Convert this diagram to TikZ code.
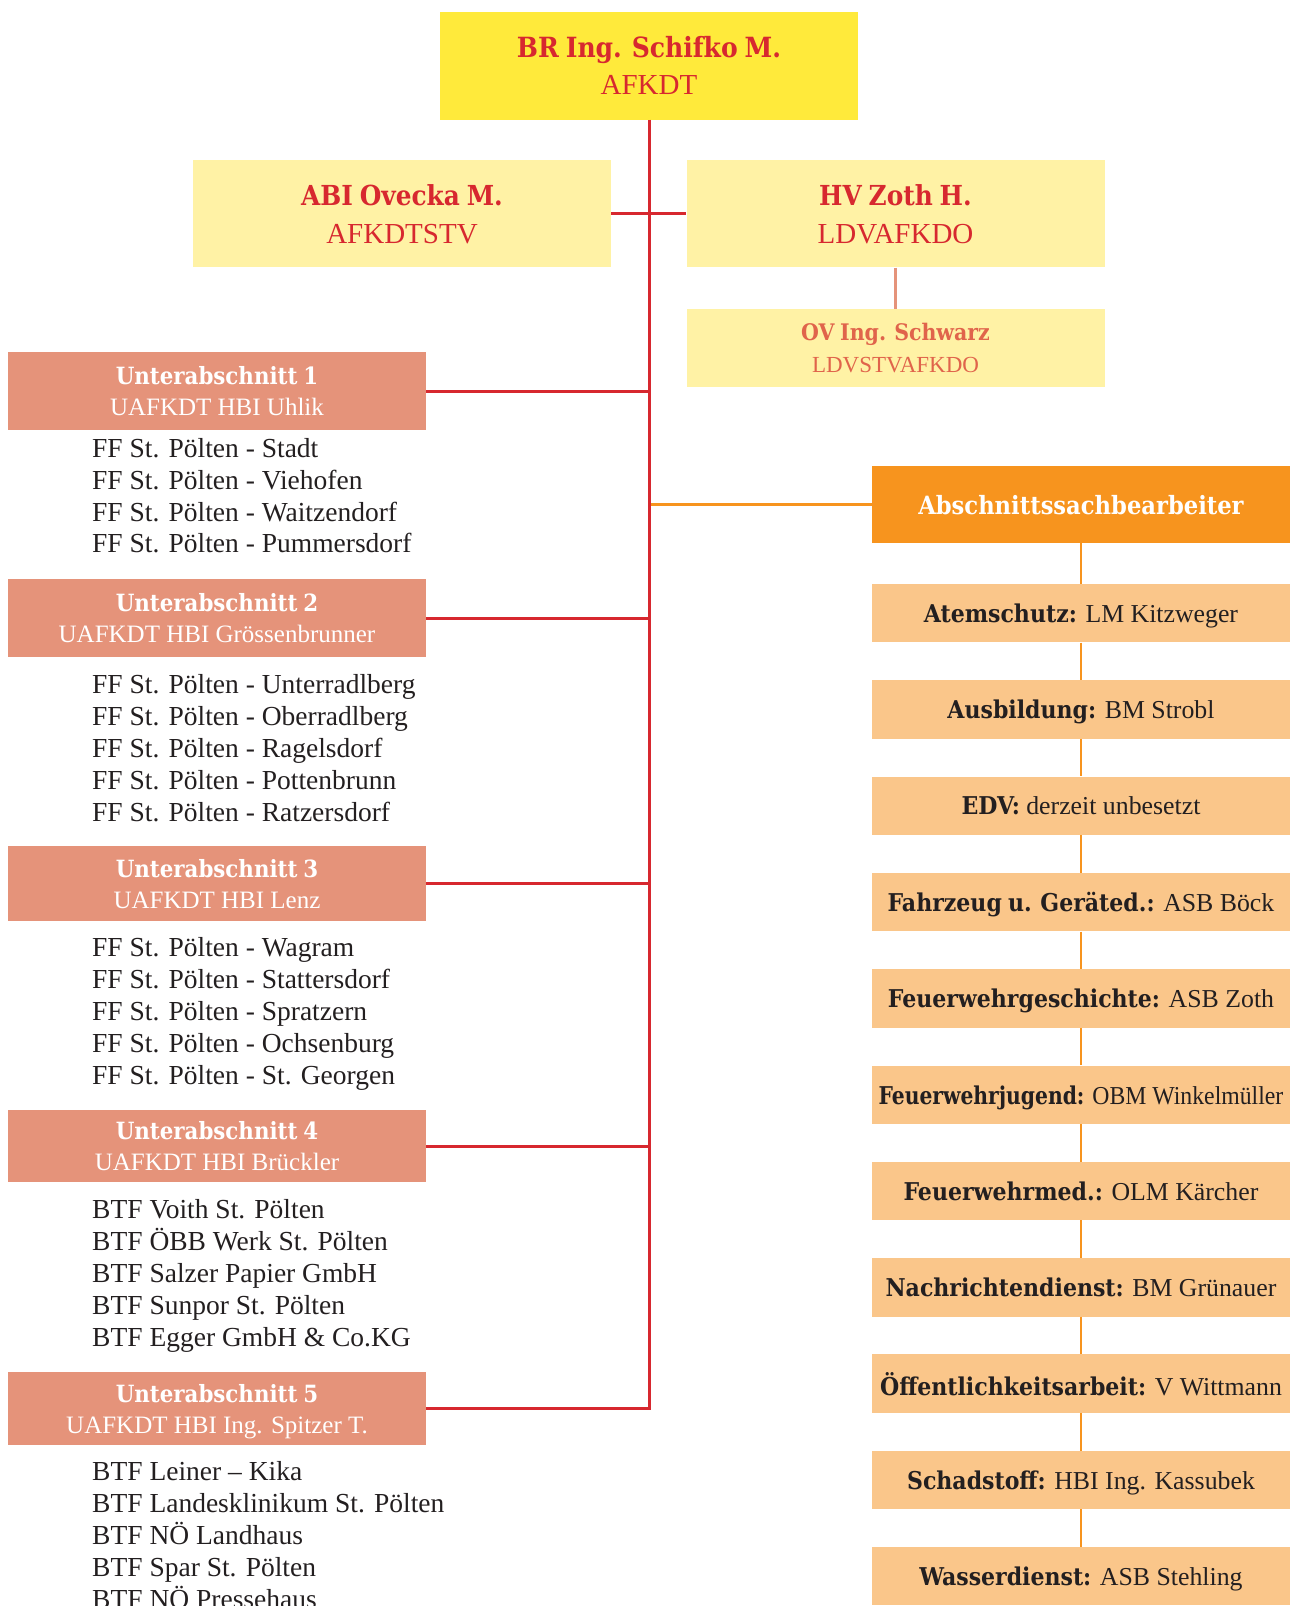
\documentclass[tikz,border=0pt]{standalone}
\usepackage{graphicx}
\usepackage{fontspec}
\setmainfont{Liberation Serif}
\newfontfamily\headfont{DejaVu Serif Condensed}[Scale=0.95,WordSpace=0.8]
\newcommand{\hd}[1]{{\headfont\bfseries #1}}

\definecolor{afred}{HTML}{D7282F}
\definecolor{afyellow}{HTML}{FFEA3B}
\definecolor{afpale}{HTML}{FFF2A5}
\definecolor{afsalmon}{HTML}{E5937A}
\definecolor{afovtext}{HTML}{E0644B}
\definecolor{aforange}{HTML}{F7941E}
\definecolor{aflight}{HTML}{FAC68A}
\definecolor{aftext}{HTML}{231F20}

\begin{document}
\begin{tikzpicture}[x=1pt,y=-1pt,
    every node/.style={inner sep=0pt,align=center},
    chief/.style={fill=afyellow,minimum width=418pt,minimum height=108pt,text depth=0pt,text=afred,font=\fontsize{29}{37.7}\selectfont},
    deputy/.style={fill=afpale,minimum width=418pt,minimum height=107.5pt,text depth=0pt,text=afred,font=\fontsize{29}{37.7}\selectfont},
    ovbox/.style={fill=afpale,minimum width=418pt,minimum height=78pt,text depth=0pt,text=afovtext,font=\fontsize{23}{32.5}\selectfont},
    uabox/.style={fill=afsalmon,minimum width=418pt,text depth=0pt,text=white,font=\fontsize{25}{31}\selectfont},
    member/.style={anchor=base west,text=aftext,font=\fontsize{27.5}{30}\selectfont},
    asbbox/.style={fill=aforange,minimum width=418pt,minimum height=77pt,text depth=0pt,text=white,font=\fontsize{26.5}{30}\selectfont},
    subbox/.style={fill=aflight,minimum width=418pt,minimum height=58.4pt,text depth=0pt,text=aftext,font=\fontsize{25.8}{30}\selectfont},
    trunk/.style={draw=afred,line width=3pt},
    ovline/.style={draw=afsalmon,line width=3pt},
    asbline/.style={draw=aforange,line width=2.5pt}]
  \useasboundingbox (0,0) rectangle (1290,1606);

  \node[chief] (afkdt) at (649,65.5) {\hd{\fontsize{29.3}{37.7}\selectfont BR Ing. Schifko M.}\\AFKDT};
  \node[deputy] (stv) at (402,213.7) {\hd{ABI Ovecka M.}\\AFKDTSTV};
  \node[deputy] (ldv) at (895.5,213.7) {\hd{HV Zoth H.}\\LDVAFKDO};
  \node[ovbox] (ldvstv) at (895.5,347.8) {\hd{\fontsize{24}{32.5}\selectfont OV Ing. Schwarz}\\LDVSTVAFKDO};

  \node[uabox,minimum height=77.5pt] (ua1) at (217,391) {\hd{Unterabschnitt 1}\\UAFKDT HBI Uhlik};
  \node[uabox,minimum height=78pt] (ua2) at (217,618) {\hd{Unterabschnitt 2}\\UAFKDT HBI Grössenbrunner};
  \node[uabox,minimum height=75pt] (ua3) at (217,883.5) {\hd{Unterabschnitt 3}\\UAFKDT HBI Lenz};
  \node[uabox,minimum height=72pt] (ua4) at (217,1146) {\hd{Unterabschnitt 4}\\UAFKDT HBI Brückler};
  \node[uabox,minimum height=73pt] (ua5) at (217,1408.5) {\hd{Unterabschnitt 5}\\UAFKDT HBI Ing. Spitzer T.};

  \foreach \t [count=\i] in {FF St. Pölten - Stadt,FF St. Pölten - Viehofen,FF St. Pölten - Waitzendorf,FF St. Pölten - Pummersdorf}
    \node[member] (m1-\i) at (92,{457.5+31.8*(\i-1)}) {\t};
  \foreach \t [count=\i] in {FF St. Pölten - Unterradlberg,FF St. Pölten - Oberradlberg,FF St. Pölten - Ragelsdorf,FF St. Pölten - Pottenbrunn,FF St. Pölten - Ratzersdorf}
    \node[member] (m2-\i) at (92,{693+32*(\i-1)}) {\t};
  \foreach \t [count=\i] in {FF St. Pölten - Wagram,FF St. Pölten - Stattersdorf,FF St. Pölten - Spratzern,FF St. Pölten - Ochsenburg,FF St. Pölten - St. Georgen}
    \node[member] (m3-\i) at (92,{956.5+32*(\i-1)}) {\t};
  \foreach \t [count=\i] in {BTF Voith St. Pölten,BTF ÖBB Werk St. Pölten,BTF Salzer Papier GmbH,BTF Sunpor St. Pölten,BTF Egger GmbH \& Co.KG}
    \node[member] (m4-\i) at (92,{1218.5+32*(\i-1)}) {\t};
  \foreach \t [count=\i] in {BTF Leiner – Kika,BTF Landesklinikum St. Pölten,BTF NÖ Landhaus,BTF Spar St. Pölten,BTF NÖ Pressehaus}
    \node[member] (m5-\i) at (92,{1480+32*(\i-1)}) {\t};

  \node[asbbox] (asb) at (1081,504.7) {\hd{Abschnittssachbearbeiter}};
  \foreach \lab [count=\i] in {{\hd{Atemschutz:} LM Kitzweger},{\hd{Ausbildung:} BM Strobl},{\hd{EDV:} derzeit unbesetzt},{\hd{Fahrzeug u. Geräted.:} ASB Böck},{\hd{Feuerwehrgeschichte:} ASB Zoth},{\scalebox{0.92}[1]{\hd{Feuerwehrjugend:} OBM Winkelmüller}},{\hd{Feuerwehrmed.:} OLM Kärcher},{\hd{Nachrichtendienst:} BM Grünauer},{\hd{Öffentlichkeitsarbeit:} V Wittmann},{\hd{Schadstoff:} HBI Ing. Kassubek},{\hd{Wasserdienst:} ASB Stehling}}
    \node[subbox] (s\i) at (1081,{613.2+96.3*(\i-1)}) {\lab};

  \draw[asbline] (asb.south) -- (s1.north);
  \foreach \i [evaluate=\i as \j using int(\i+1)] in {1,...,10}
    \draw[asbline] (s\i.south) -- (s\j.north);
  \draw[asbline] (asb.west) -- (asb.west -| afkdt.south);
  \draw[ovline] (ldv.south) -- (ldvstv.north);

  \draw[trunk] (stv.east) -- (ldv.west);
  \foreach \u in {1,...,4}
    \draw[trunk] (ua\u.east) -- (ua\u.east -| afkdt.south);
  \draw[trunk] (afkdt.south) -- (afkdt.south |- ua5.east) -- (ua5.east);
\end{tikzpicture}
\end{document}
